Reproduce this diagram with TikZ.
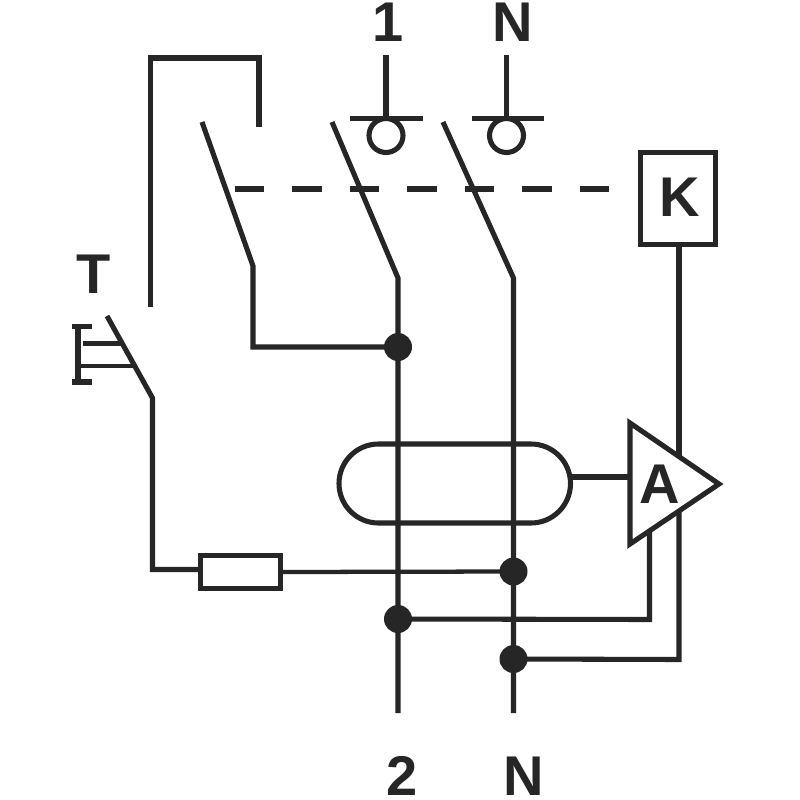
\documentclass[tikz,border=0pt]{standalone}
\usepackage{fontspec}
\setmainfont{Liberation Sans}
\begin{document}
\begin{tikzpicture}[x=0.75pt,y=-0.75pt,
  wire/.style={draw=black!85,line width=3.8pt,line cap=butt,line join=miter},
  thinwire/.style={draw=black!85,line width=3.2pt},
  dot/.style={circle,fill=black!85,minimum size=21pt,inner sep=0pt},
  lbl/.style={inner sep=0pt,font=\bfseries\fontsize{42}{42}\selectfont,text=black!85,anchor=base},
  box/.style={draw=black!85,line width=3.8pt,fill=white,inner sep=0pt},
  ring/.style={circle,draw=black!85,line width=3.8pt,minimum size=25.5pt,inner sep=0pt}]
\useasboundingbox (0,0) rectangle (800,800);
\fill[white] (0,0) rectangle (800,800);
\coordinate (in1) at (386,55);
\coordinate (inN) at (506.5,55);
\coordinate (sw0t) at (202,122);
\coordinate (sw0b) at (253,266);
\coordinate (sw1t) at (332,122);
\coordinate (sw1b) at (398,278);
\coordinate (sw2t) at (443,122);
\coordinate (sw2b) at (513.5,278);
\coordinate (out1) at (398,713);
\coordinate (out2) at (513.5,713);
\node[dot] (j1) at (398,347) {};
\node[dot] (j2) at (513.5,571.5) {};
\node[dot] (j3) at (398,619) {};
\node[dot] (j4) at (513.5,659) {};
\draw[wire] (sw1t) -- (sw1b) -- (out1);
\draw[wire] (sw2t) -- (sw2b) -- (out2);
\draw[wire] (sw0t) -- (sw0b) -- (253,347) -- (j1.center);
% top terminals
\node[ring] (r1) at (386,135.5) {};
\node[ring] (r2) at (506.5,135.5) {};
\draw[wire] (in1) -- (r1.north);
\draw[wire] (inN) -- (r2.north);
\draw[wire] (350,118.5) -- (423,118.5);
\draw[wire] (472,118.5) -- (544,118.5);
% test loop
\draw[wire] (150.5,307) -- (150.5,58) -- (259,58) -- (259,127);
% K
\node[box,minimum width=56pt,minimum height=69pt] (K) at (678,198.5) {};
\node[lbl] (ktext) at (680,216) {K};
% dashed
\coordinate (dashEnd) at (612,189);
\coordinate (dashStart) at (235,189);
\draw[wire,dash pattern=on 22pt off 21.1pt] (dashStart) -- (dashEnd);
% toroid
\draw[wire] (378.5,444) -- (531,444) arc[start angle=-90,end angle=90,radius=39.5] -- (378.5,523) arc[start angle=90,end angle=270,radius=39.5] -- cycle;
% amp
\coordinate (ampA) at (630,423);
\coordinate (ampB) at (630,544);
\coordinate (ampC) at (719,484);
\coordinate (kx) at (679,0);
\coordinate (kin) at (679,456);
\draw[wire] (K.south -| kx) -- (kin);
\draw[wire] (570,477) -- (630,477);
\draw[wire] (ampA) -- (ampC) -- (ampB) -- cycle;
\node[lbl] (atext) at (660,503) {A};
% returns
\draw[wire] (j3.center) -- (649.5,619.5) -- (649.5,531);
\draw[wire] (j4.center) -- (679,659.5) -- (679,512);
% resistor
\node[box,minimum width=60pt,minimum height=25pt] (R) at (240.5,572) {};
\draw[thinwire] (R.east) -- (j2.center);
% test button
\coordinate (ry) at (0,569.5);
\draw[wire] (107,316) -- (152.5,398) -- (152.5,569.5) -- (R.west |- ry);
\draw[wire] (72,326.5) -- (92,326.5);
\draw[wire] (72,382) -- (92,382);
\draw[line width=4.6pt,draw=black!85] (78,325) -- (78,383);
\draw[thinwire] (83,343.5) -- (121,343.5);
\draw[thinwire] (80,366) -- (133,366);
% labels
\node[lbl] (t1) at (388,41) {1};
\node[lbl] (t2) at (513,41) {N};
\node[lbl] (t3) at (94,293) {T};
\node[lbl] (t4) at (402,795) {2};
\node[lbl] (t5) at (524,795) {N};
\end{tikzpicture}
\end{document}
